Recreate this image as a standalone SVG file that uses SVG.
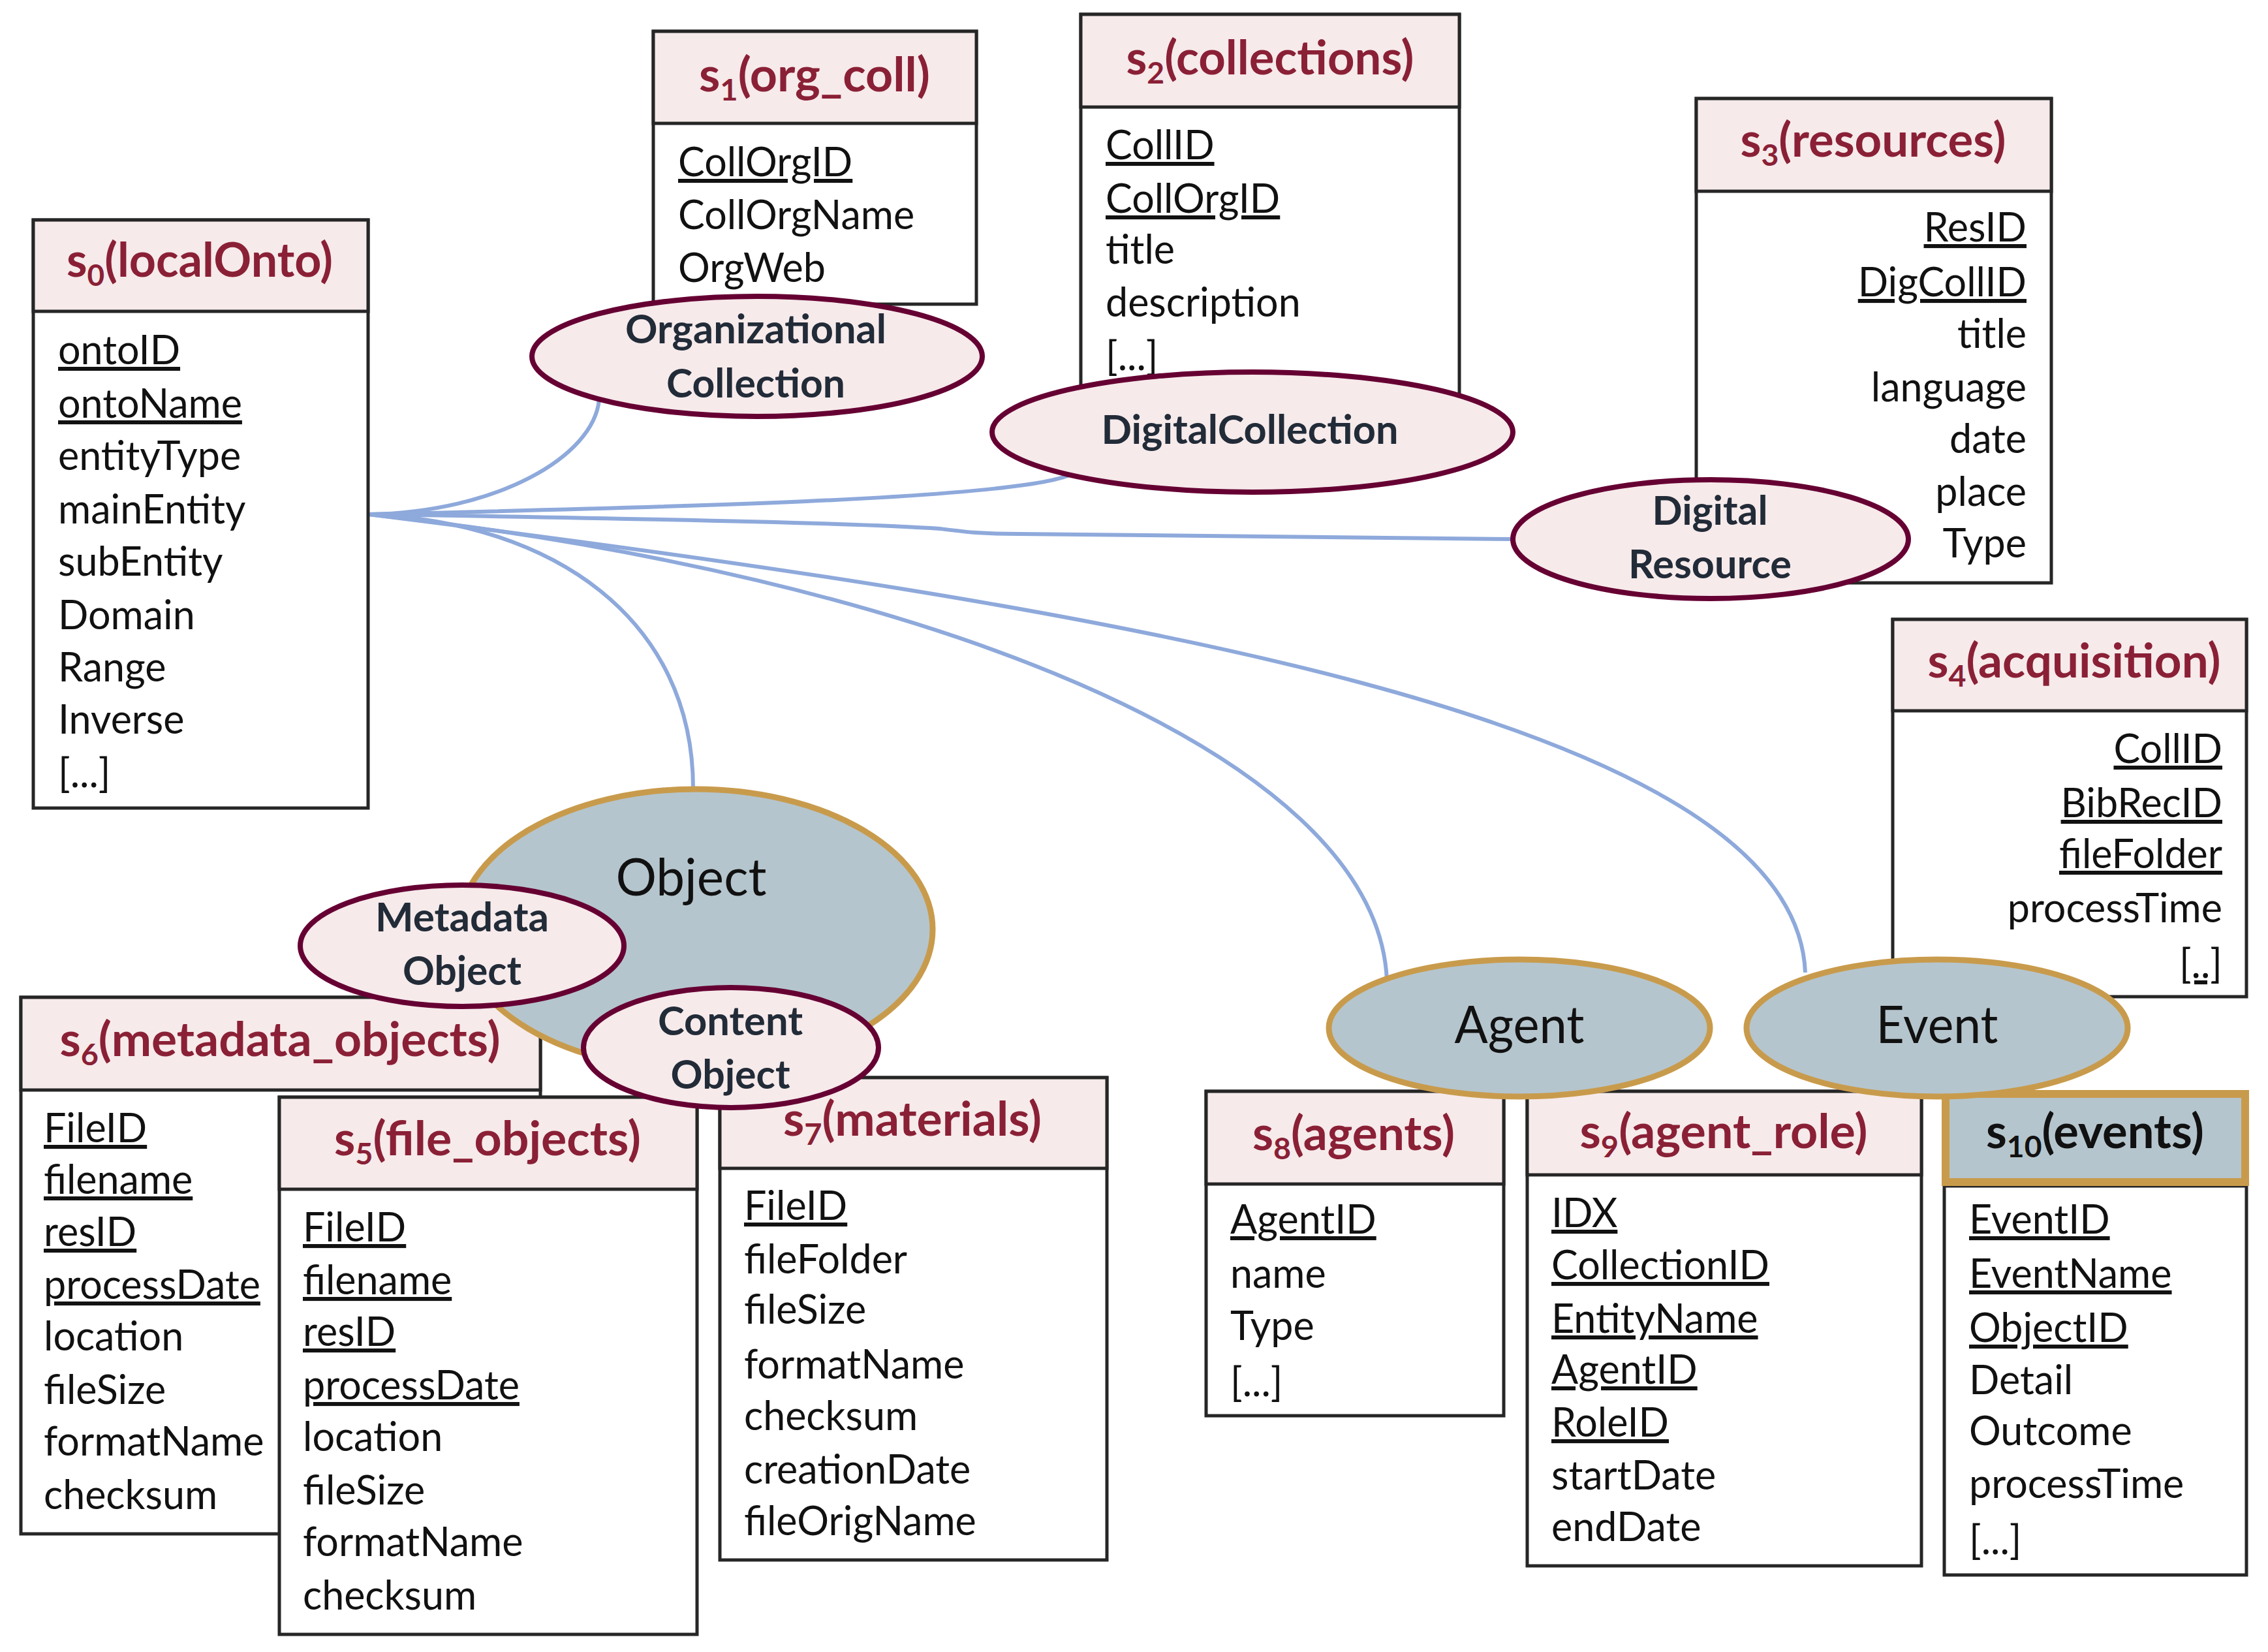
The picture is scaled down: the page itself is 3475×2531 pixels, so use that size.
<svg xmlns="http://www.w3.org/2000/svg" width="3475" height="2531" viewBox="0 0 3475 2531">
<style>
.bg{fill:#fff}
.box{fill:#fff;stroke:#262626;stroke-width:5}
.hdr{fill:#F6EAEA;stroke:#262626;stroke-width:5}
.ttl{font-family:Lato,'Liberation Sans',sans-serif;font-weight:bold;font-size:72px;fill:#8A2036;text-anchor:middle}
.row{font-family:Lato,'Liberation Sans',sans-serif;font-size:61px;fill:#111}
.u{text-decoration:underline}
.r{text-anchor:end}
.pe{fill:#F6EAEA;stroke:#660033;stroke-width:8}
.be{fill:#B5C5CD;stroke:#C89B4C;stroke-width:9}
.el{font-family:Lato,'Liberation Sans',sans-serif;font-weight:bold;font-size:62px;fill:#222B38;text-anchor:middle}
.nl{font-family:Lato,'Liberation Sans',sans-serif;font-size:80px;fill:#111;text-anchor:middle}
.con{fill:none;stroke:#8EA9DB;stroke-width:6}
</style>
<rect class="bg" x="0" y="0" width="3475" height="2531"/>

<g id="connectors">
<path class="con" d="M565,788 C760,785 910,700 918,612"/>
<path class="con" d="M565,788 C1000,778 1560,765 1640,727"/>
<path class="con" d="M565,788 C900,793 1300,800 1440,810 C1480,815 1500,818 1560,818 L2318,826"/>
<path class="con" d="M565,788 C850,800 1062,950 1062,1208"/>
<path class="con" d="M565,788 C1400,880 2110,1150 2125,1502"/>
<path class="con" d="M565,788 C1700,930 2750,1100 2766,1490"/>
</g>

<g id="s0">
<rect class="box" x="51" y="337" width="513" height="901"/>
<rect class="hdr" x="51" y="337" width="513" height="140"/>
<text class="ttl" x="306" y="424" textLength="408" lengthAdjust="spacingAndGlyphs">s<tspan font-size="46" dy="14">0</tspan><tspan dy="-14">(localOnto)</tspan></text>
<text class="row u" x="89" y="558">ontoID</text>
<text class="row u" x="89" y="640">ontoName</text>
<text class="row" x="89" y="720">entityType</text>
<text class="row" x="89" y="802">mainEntity</text>
<text class="row" x="89" y="882">subEntity</text>
<text class="row" x="89" y="964">Domain</text>
<text class="row" x="89" y="1044">Range</text>
<text class="row" x="89" y="1124">Inverse</text>
<text class="row" x="89" y="1206">[...]</text>
</g>

<g id="s1">
<rect class="box" x="1001" y="48" width="495" height="418"/>
<rect class="hdr" x="1001" y="48" width="495" height="141"/>
<text class="ttl" x="1248" y="140" textLength="354" lengthAdjust="spacingAndGlyphs">s<tspan font-size="46" dy="14">1</tspan><tspan dy="-14">(org_coll)</tspan></text>
<text class="row u" x="1039" y="270">CollOrgID</text>
<text class="row" x="1039" y="351">CollOrgName</text>
<text class="row" x="1039" y="432">OrgWeb</text>
</g>

<g id="organizational-collection">
<ellipse class="pe" cx="1160" cy="546" rx="345" ry="92"/>
<text class="el" x="1158" y="526" textLength="400" lengthAdjust="spacingAndGlyphs">Organizational</text>
<text class="el" x="1158" y="609" textLength="274" lengthAdjust="spacingAndGlyphs">Collection</text>
</g>

<g id="s2">
<rect class="box" x="1656" y="22" width="580" height="620"/>
<rect class="hdr" x="1656" y="22" width="580" height="142"/>
<text class="ttl" x="1946" y="114" textLength="441" lengthAdjust="spacingAndGlyphs">s<tspan font-size="46" dy="14">2</tspan><tspan dy="-14">(collections)</tspan></text>
<text class="row u" x="1694" y="244">CollID</text>
<text class="row u" x="1694" y="326">CollOrgID</text>
<text class="row" x="1694" y="404">title</text>
<text class="row" x="1694" y="485">description</text>
<text class="row" x="1694" y="567">[...]</text>
</g>

<g id="digital-collection">
<ellipse class="pe" cx="1919" cy="662" rx="399" ry="92"/>
<text class="el" x="1915" y="680" textLength="455" lengthAdjust="spacingAndGlyphs">DigitalCollection</text>
</g>

<g id="s3">
<rect class="box" x="2599" y="151" width="544" height="742"/>
<rect class="hdr" x="2599" y="151" width="544" height="142"/>
<text class="ttl" x="2870" y="240" textLength="407" lengthAdjust="spacingAndGlyphs">s<tspan font-size="46" dy="14">3</tspan><tspan dy="-14">(resources)</tspan></text>
<text class="row r u" x="3105" y="370">ResID</text>
<text class="row r u" x="3105" y="454">DigCollID</text>
<text class="row r" x="3105" y="533">title</text>
<text class="row r" x="3105" y="615">language</text>
<text class="row r" x="3105" y="694">date</text>
<text class="row r" x="3105" y="775">place</text>
<text class="row r" x="3105" y="854">Type</text>
</g>

<g id="digital-resource">
<ellipse class="pe" cx="2621" cy="826" rx="303" ry="91"/>
<text class="el" x="2620" y="804" textLength="177" lengthAdjust="spacingAndGlyphs">Digital</text>
<text class="el" x="2620" y="886" textLength="250" lengthAdjust="spacingAndGlyphs">Resource</text>
</g>

<g id="s4">
<rect class="box" x="2900" y="949" width="542" height="578"/>
<rect class="hdr" x="2900" y="949" width="542" height="140"/>
<text class="ttl" x="3178" y="1038" textLength="449" lengthAdjust="spacingAndGlyphs">s<tspan font-size="46" dy="14">4</tspan><tspan dy="-14">(acquisition)</tspan></text>
<text class="row r u" x="3405" y="1169">CollID</text>
<text class="row r u" x="3405" y="1252">BibRecID</text>
<text class="row r u" x="3405" y="1330">fileFolder</text>
<text class="row r" x="3405" y="1413">processTime</text>
<text class="row r u" x="3405" y="1498">[..]</text>
</g>

<g id="s6">
<rect class="box" x="32" y="1528" width="796" height="822"/>
<rect class="hdr" x="32" y="1528" width="796" height="142"/>
<text class="ttl" x="429" y="1618" textLength="675" lengthAdjust="spacingAndGlyphs">s<tspan font-size="46" dy="14">6</tspan><tspan dy="-14">(metadata_objects)</tspan></text>
<text class="row u" x="67" y="1750">FileID</text>
<text class="row u" x="67" y="1829">filename</text>
<text class="row u" x="67" y="1909">resID</text>
<text class="row u" x="67" y="1990">processDate</text>
<text class="row" x="67" y="2069">location</text>
<text class="row" x="67" y="2151">fileSize</text>
<text class="row" x="67" y="2230">formatName</text>
<text class="row" x="67" y="2312">checksum</text>
</g>

<g id="s5">
<rect class="box" x="428" y="1681" width="640" height="823"/>
<rect class="hdr" x="428" y="1681" width="640" height="141"/>
<text class="ttl" x="747" y="1770" textLength="470" lengthAdjust="spacingAndGlyphs">s<tspan font-size="46" dy="14">5</tspan><tspan dy="-14">(file_objects)</tspan></text>
<text class="row u" x="464" y="1902">FileID</text>
<text class="row u" x="464" y="1983">filename</text>
<text class="row u" x="464" y="2062">resID</text>
<text class="row u" x="464" y="2144">processDate</text>
<text class="row" x="464" y="2223">location</text>
<text class="row" x="464" y="2305">fileSize</text>
<text class="row" x="464" y="2384">formatName</text>
<text class="row" x="464" y="2466">checksum</text>
</g>

<g id="s7">
<rect class="box" x="1103" y="1651" width="593" height="739"/>
<rect class="hdr" x="1103" y="1651" width="593" height="139"/>
<text class="ttl" x="1398" y="1740" textLength="396" lengthAdjust="spacingAndGlyphs">s<tspan font-size="46" dy="14">7</tspan><tspan dy="-14">(materials)</tspan></text>
<text class="row u" x="1140" y="1869">FileID</text>
<text class="row" x="1140" y="1951">fileFolder</text>
<text class="row" x="1140" y="2028">fileSize</text>
<text class="row" x="1140" y="2112">formatName</text>
<text class="row" x="1140" y="2191">checksum</text>
<text class="row" x="1140" y="2273">creationDate</text>
<text class="row" x="1140" y="2352">fileOrigName</text>
</g>

<g id="object">
<ellipse class="be" cx="1066" cy="1424" rx="363" ry="215"/>
<text class="nl" x="1059" y="1372" textLength="231" lengthAdjust="spacingAndGlyphs">Object</text>
</g>

<g id="metadata-object">
<ellipse class="pe" cx="708" cy="1449" rx="248" ry="93"/>
<text class="el" x="708" y="1427" textLength="266" lengthAdjust="spacingAndGlyphs">Metadata</text>
<text class="el" x="708" y="1509" textLength="182" lengthAdjust="spacingAndGlyphs">Object</text>
</g>

<g id="content-object">
<ellipse class="pe" cx="1120" cy="1605" rx="226" ry="92"/>
<text class="el" x="1119" y="1586" textLength="222" lengthAdjust="spacingAndGlyphs">Content</text>
<text class="el" x="1119" y="1668" textLength="183" lengthAdjust="spacingAndGlyphs">Object</text>
</g>

<g id="s8">
<rect class="box" x="1848" y="1672" width="456" height="497"/>
<rect class="hdr" x="1848" y="1672" width="456" height="142"/>
<text class="ttl" x="2074" y="1762" textLength="310" lengthAdjust="spacingAndGlyphs">s<tspan font-size="46" dy="14">8</tspan><tspan dy="-14">(agents)</tspan></text>
<text class="row u" x="1885" y="1890">AgentID</text>
<text class="row" x="1885" y="1973">name</text>
<text class="row" x="1885" y="2053">Type</text>
<text class="row" x="1885" y="2139">[...]</text>
</g>

<g id="s9">
<rect class="box" x="2340" y="1672" width="604" height="727"/>
<rect class="hdr" x="2340" y="1672" width="604" height="128"/>
<text class="ttl" x="2641" y="1759" textLength="441" lengthAdjust="spacingAndGlyphs">s<tspan font-size="46" dy="14">9</tspan><tspan dy="-14">(agent_role)</tspan></text>
<text class="row u" x="2377" y="1880">IDX</text>
<text class="row u" x="2377" y="1960">CollectionID</text>
<text class="row u" x="2377" y="2042">EntityName</text>
<text class="row u" x="2377" y="2120">AgentID</text>
<text class="row u" x="2377" y="2201">RoleID</text>
<text class="row" x="2377" y="2282">startDate</text>
<text class="row" x="2377" y="2361">endDate</text>
</g>

<g id="s10">
<rect class="box" x="2979" y="1817" width="463" height="596"/>
<rect x="2981" y="1676" width="459" height="135" fill="#B5C5CD" stroke="#C89B4C" stroke-width="12"/>
<text class="ttl" x="3210" y="1759" style="fill:#111" textLength="334" lengthAdjust="spacingAndGlyphs">s<tspan font-size="46" dy="14">10</tspan><tspan dy="-14">(events)</tspan></text>
<text class="row u" x="3017" y="1890">EventID</text>
<text class="row u" x="3017" y="1973">EventName</text>
<text class="row u" x="3017" y="2056">ObjectID</text>
<text class="row" x="3017" y="2136">Detail</text>
<text class="row" x="3017" y="2214">Outcome</text>
<text class="row" x="3017" y="2295">processTime</text>
<text class="row" x="3017" y="2381">[...]</text>
</g>

<g id="agent">
<ellipse class="be" cx="2328" cy="1575" rx="292" ry="105"/>
<text class="nl" x="2328" y="1598" textLength="199" lengthAdjust="spacingAndGlyphs">Agent</text>
</g>

<g id="event">
<ellipse class="be" cx="2968" cy="1575" rx="292" ry="105"/>
<text class="nl" x="2968" y="1598" textLength="187" lengthAdjust="spacingAndGlyphs">Event</text>
</g>
</svg>
